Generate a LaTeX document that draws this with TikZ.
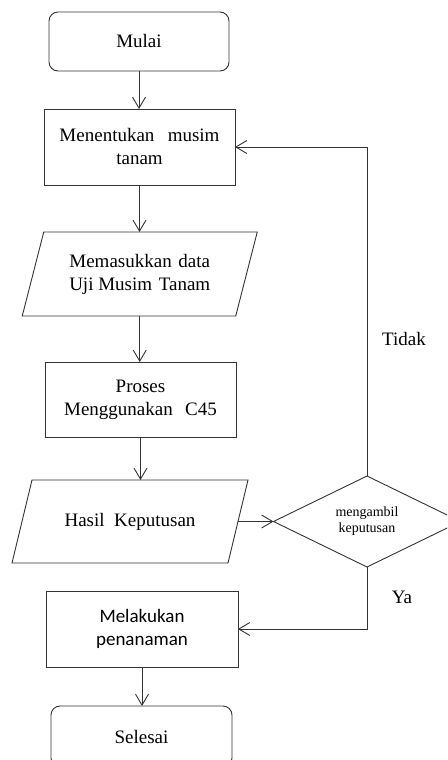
\documentclass[tikz,border=0pt]{standalone}
\usepackage{fontspec}
\setmainfont{Liberation Serif}
\newfontfamily\calfont{Carlito}
\usetikzlibrary{arrows.meta}
\begin{document}
\begin{tikzpicture}[x=1pt,y=-1pt,
  every node/.style={inner sep=0pt,outer sep=0pt},
  ln/.style={draw=black!80,line width=0.9pt},
  arr/.style={ln,-{Straight Barb[length=11pt,width=13pt,line width=0.9pt]}},
  txt/.style={font=\fontsize{19}{23}\selectfont,align=center},
  box/.style={txt,ln,rectangle},
  term/.style={box,rounded corners=9pt},
  hid/.style={txt,draw=none,rectangle},
  small/.style={font=\fontsize{14}{16}\selectfont,align=center}]
\useasboundingbox (0,0) rectangle (447,760);
\clip (0,0) rectangle (447,760);
% nodes
\node[term,minimum width=180pt,minimum height=59pt] (mulai) at (139,41.5) {Mulai};
\node[box,minimum width=191pt,minimum height=76pt] (ment) at (139.5,147) {Menentukan\hspace{0.45em} musim\\tanam};
\node[hid,minimum width=213.5pt,minimum height=84pt] (mem) at (139.75,274) {Memasukkan\hspace{0.1em} data\\Uji Musim\hspace{0.1em} Tanam};
\node[box,minimum width=191pt,minimum height=75pt] (proses) at (140.5,399.5) {Proses\\Menggunakan\hspace{0.4em} C45};
\node[hid,minimum width=216pt,minimum height=83pt] (hasil) at (130,521.5) {Hasil\hspace{0.25em} Keputusan};
\node[small,draw=none,minimum width=187pt,minimum height=91pt] (dec) at (367,521.5) {mengambil\\keputusan};
\node[box,font=\calfont\fontsize{19}{23}\selectfont,minimum width=192pt,minimum height=76pt] (mel) at (142,629) {Melakukan\\penanaman};
\node[term,minimum width=181pt,minimum height=61pt] (sel) at (141.5,736.5) {Selesai};
\node[txt] (tidak) at (404,338.5) {Tidak};
\node[txt] (ya) at (402,597.7) {Ya};
% parallelograms and diamond
\draw[ln] ([xshift=10.75pt]mem.north west) -- ([xshift=10.75pt]mem.north east)
  -- ([xshift=-10.75pt]mem.south east) -- ([xshift=-10.75pt]mem.south west) -- cycle;
\draw[ln] ([xshift=10pt]hasil.north west) -- ([xshift=10pt]hasil.north east)
  -- ([xshift=-10pt]hasil.south east) -- ([xshift=-10pt]hasil.south west) -- cycle;
\draw[ln] (dec.north) -- (dec.east) -- (dec.south) -- (dec.west) -- cycle;
% connectors
\draw[arr] (mulai.south) -- (mulai.south |- ment.north);
\draw[arr] (ment.south) -- (ment.south |- mem.north);
\draw[arr] (mem.south) -- (mem.south |- proses.north);
\draw[arr] (proses.south) -- (proses.south |- hasil.north);
\draw[arr] (hasil.east) -- (dec.west);
\draw[arr] (dec.north) |- (ment.east);
\draw[arr] (dec.south) |- (mel.east);
\draw[arr] (mel.south) -- (mel.south |- sel.north);
\end{tikzpicture}
\end{document}
